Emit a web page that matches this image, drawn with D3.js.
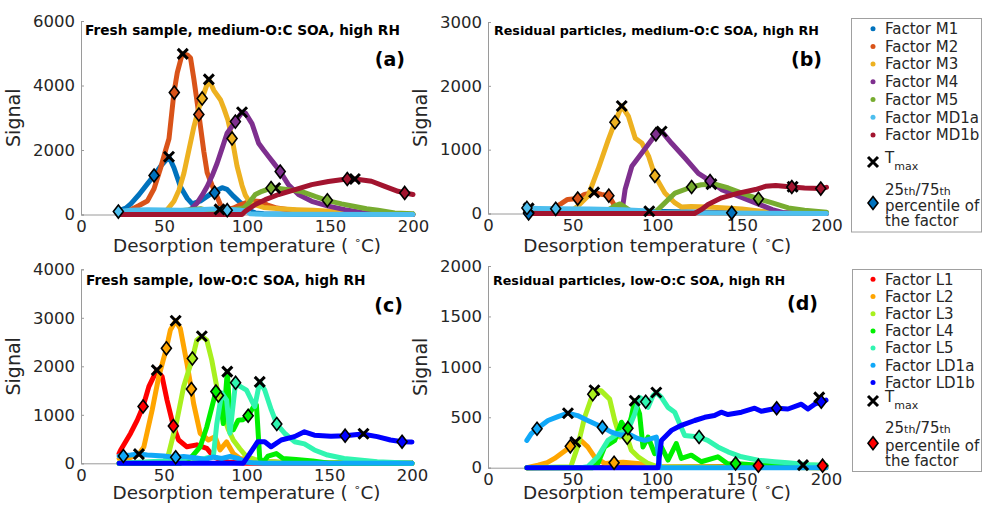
<!DOCTYPE html>
<html><head><meta charset="utf-8">
<script src="https://cdn.jsdelivr.net/npm/d3@7"></script>
<style>body{margin:0;background:#fff;} svg{display:block;}</style>
</head><body>
<svg id="chart" width="983" height="511"></svg>
<script>
// ---------------- DATA ----------------
const namesM = ["Factor M1","Factor M2","Factor M3","Factor M4","Factor M5","Factor MD1a","Factor MD1b"];
const colorsM = ["#0072BD","#D95319","#EDB120","#7E2F8E","#77AC30","#4DBEEE","#A2142F"];
const namesL = ["Factor L1","Factor L2","Factor L3","Factor L4","Factor L5","Factor LD1a","Factor LD1b"];
const colorsL = ["#FF0000","#FFA500","#A8F01E","#00F000","#30F5B0","#10A8F8","#0000FF"];

const titles = ["Fresh sample, medium-O:C SOA, high RH","Residual particles, medium-O:C SOA, high RH",
                "Fresh sample, low-O:C SOA, high RH","Residual particles, low-O:C SOA, high RH"];
const panelLetters = ["(a)","(b)","(c)","(d)"];
const xTicks = [0,50,100,150,200];
const yTicksA = [0,2000,4000,6000];
const yTicksB = [0,1000,2000,3000];
const yTicksC = [0,1000,2000,3000,4000];
const yTicksD = [0,500,1000,1500,2000];

// Panel (a): fresh, medium-O:C  [temperature, signal]
const a_M1 = [[23,120],[27,200],[30,330],[35,620],[40,950],[44,1210],[48,1500],[53,1790],[56,1450],[60,850],[64,500],[67,330],[72,420],[76,560],[80,700],[85,830],[88,780],[92,560],[96,370],[100,150],[105,50],[110,20],[130,10],[200,0]];
const a_M2 = [[23,0],[27,60],[30,150],[35,280],[40,420],[44,800],[48,1450],[51,2000],[53,2350],[56,3780],[58,4400],[61,4980],[64,4950],[66,4850],[68,4200],[71,3100],[74,1950],[76,1300],[79,900],[82,550],[85,180],[88,150],[92,200],[96,300],[100,380],[104,420],[108,400],[112,300],[118,200],[125,150],[135,100],[150,50],[170,20],[200,0]];
const a_M3 = [[23,0],[40,0],[48,20],[52,150],[56,410],[59,750],[62,1280],[65,2000],[68,2720],[71,3300],[73,3600],[77,4190],[80,3850],[84,3560],[86,3300],[88.5,2930],[91,2360],[94,1500],[97,900],[99,600],[102,350],[106,280],[110,220],[120,180],[130,150],[140,130],[150,100],[160,70],[170,40],[185,10],[200,0]];
const a_M4 = [[23,0],[55,0],[60,40],[64,100],[67,200],[70,360],[73,600],[76,870],[79,1200],[82,1590],[85,2050],[88,2520],[93,2880],[97,3170],[99,3150],[103,2820],[107,2210],[110,2000],[113,1800],[116,1600],[120,1330],[125,920],[131,620],[139,410],[149,260],[159,150],[169,60],[180,20],[200,0]];
const a_M5 = [[23,0],[30,30],[40,60],[50,80],[60,120],[66,150],[72,180],[78,100],[85,120],[92,150],[98,200],[101,350],[105,620],[109,720],[114.5,820],[117,820],[125,770],[133,710],[141,560],[148,440],[157,330],[165,250],[172,180],[179,130],[189,50],[200,20]];
const a_MD1a = [[23,90],[30,130],[40,150],[50,140],[60,130],[70,150],[80,170],[84,175],[88,160],[92,150],[96,130],[100,100],[102,20],[110,10],[200,0]];
const a_MD1b = [[23,0],[97,0],[99,100],[105,310],[111,460],[119,620],[129,770],[139,925],[149,1025],[160,1100],[165,1100],[175,1030],[183,870],[191,720],[195,670],[200,620]];
const a_tmax = [[53,1790],[61.3,4980],[77,4190],[97,3170],[117,820],[83.5,160],[165,1100]];
const a_pct = [[[44,1210],[80.5,675]],[[56.2,3780],[71,3100]],[[73,3600],[91,2360]],[[93,2880],[120,1330]],[[114.5,820],[148.4,440]],[[22.5,90],[88.1,134]],[[160.4,1100],[195,670]]];

// Panel (b): residual, medium-O:C
const b_M1 = [[23,10],[60,20],[95,36],[130,20],[170,10],[200,0]];
const b_M2 = [[23,0],[30,20],[35,50],[39,88],[43,150],[47,220],[53,234],[57,300],[62.7,330],[67,300],[71.4,280],[75,115],[79,36],[83,10],[200,0]];
const b_M3 = [[23,0],[45,10],[50,50],[53,115],[59,270],[65,690],[71,1150],[75,1430],[79,1685],[83,1520],[87,1180],[91,1100],[95,890],[98.6,590],[104.5,320],[110.5,165],[114.4,100],[120,110],[130,100],[138,90],[150,70],[160,40],[170,10],[200,0]];
const b_M4 = [[23,0],[79,0],[81,375],[85,740],[91,950],[99.2,1240],[102.6,1285],[108.5,1100],[116.4,870],[124.3,630],[131.2,510],[138,375],[148,270],[158,166],[168,62],[175,10],[200,0]];
const b_M5 = [[23,0],[60,0],[70,40],[75,120],[78,150],[82,80],[86,10],[98,0],[104.5,166],[110.5,320],[120.3,415],[126,450],[134,460],[142,400],[150,320],[159.8,230],[168,166],[177.5,88],[187,52],[200,20]];
const b_MD1a = [[23,88],[30,80],[40,73],[60,70],[80,60],[95,40],[100,10],[200,0]];
const b_MD1b = [[23,0],[122,0],[126,60],[130,140],[138,245],[148,320],[158,375],[164,426],[170,440],[179.5,415],[187,400],[196.6,390],[200,410]];
const b_tmax = [[95.3,36],[62.7,330],[79,1685],[102.6,1285],[132,460],[24,80],[180,420]];
const b_pct = [[[24,0],[144,10]],[[53,234],[71.4,280]],[[75,1430],[98.6,590]],[[99.2,1240],[131.2,510]],[[120.3,415],[159.8,230]],[[23,88],[40,73]],[[179.5,415],[196.6,390]]];

// Panel (c): fresh, low-O:C
const c_L1 = [[23,200],[24,275],[30,620],[34,890],[37.5,1170],[41,1580],[45.8,1920],[49,1790],[52,1300],[55.8,770],[59,480],[64,340],[70,380],[76,310],[80,140],[85,60],[90,20],[100,0],[200,0]];
const c_L2 = [[23,100],[30,120],[35,190],[38,340],[43,1100],[47,1790],[51.6,2370],[54,2750],[57.2,2940],[60,2780],[64,2060],[66.7,1530],[68,1240],[72,620],[77,480],[81,550],[84,275],[88,440],[92,200],[96,100],[105,60],[120,20],[200,0]];
const c_L3 = [[23,0],[50,0],[53,200],[58,890],[62,1580],[67.3,2160],[70,2540],[73,2620],[76,2540],[79,2130],[83,1400],[86,1000],[89,700],[92,480],[96,300],[100,140],[105,80],[110,50],[120,20],[200,0]];
const c_L4 = [[23,0],[60,0],[64,60],[67,140],[72,340],[76,750],[81.5,1480],[84,1300],[86,820],[88.4,1890],[90.4,760],[92,690],[95,890],[98,900],[101,980],[104,1150],[106,1200],[108,100],[110,20],[113,150],[118,200],[122,100],[130,80],[140,50],[150,0],[200,0]];
const c_L5 = [[23,0],[50,50],[55,100],[60,60],[65,120],[70,80],[75,100],[80,150],[82,800],[85,1450],[88,1300],[90,620],[93.4,1660],[96.4,1580],[100,1510],[103,1300],[105,1170],[108,1680],[111,1510],[115,1100],[118.3,810],[123,620],[129,445],[135,400],[141,275],[149,170],[159,100],[179,30],[200,0]];
const c_LD1a = [[23,150],[30,170],[35,190],[40,170],[45,160],[50,150],[57,120],[62,140],[70,110],[75,80],[80,130],[85,100],[90,140],[95,100],[100,20],[110,0],[200,0]];
const c_LD1b = [[23,0],[98,0],[102.8,240],[106.8,445],[111,445],[114.8,340],[121,480],[129,550],[135,650],[141,580],[151,560],[159.6,570],[170,605],[179,550],[187,480],[194,445],[200,440]];
const c_tmax = [[45.8,1920],[57.2,2940],[73,2620],[88.4,1890],[108,1680],[35,190],[170.7,610]];
const c_pct = [[[37.5,1170],[55.8,770]],[[51.6,2370],[66.7,1530]],[[67.3,2160],[83,1400]],[[81.5,1480],[101,980]],[[93.4,1660],[118.3,810]],[[25.6,150],[57.2,124]],[[159.6,570],[194,445]]];

// Panel (d): residual, low-O:C
const d_L1 = [[23,0],[100,5],[150,15],[180,25],[200,15]];
const d_L2 = [[23,0],[29.6,26],[35,50],[39.4,92],[45,160],[48.7,212],[51.7,255],[55,270],[59,206],[63,108],[69,42],[74.6,49],[80,55],[90,40],[95,10],[200,0]];
const d_L3 = [[23,0],[49,10],[53,206],[57.2,500],[62,729],[63,768],[67,762],[72,680],[75,468],[78,304],[80,370],[82.4,298],[84.8,173],[88.8,108],[94.7,42],[100,10],[200,0]];
const d_L4 = [[23,0],[62,0],[65,42],[69,206],[75,271],[79,451],[81.9,370],[82.8,392],[84.8,500],[86.8,664],[89.7,533],[91.7,206],[94.7,304],[98.6,140],[102.6,206],[106.5,75],[111.4,240],[114.4,92],[120.3,124],[126.2,59],[136,108],[142,36],[146.5,42],[160,25],[200,25]];
const d_L5 = [[23,0],[55,0],[59,10],[65,108],[71,271],[77,337],[82.8,370],[86.8,533],[89.7,697],[93.3,654],[94.7,598],[97.6,713],[99.6,746],[102.6,697],[106.5,598],[110.5,550],[113.4,435],[116.4,320],[124.9,304],[130,271],[136,206],[142,157],[150,108],[159.8,75],[169.6,59],[177.5,49],[190,30],[200,20]];
const d_LD1a = [[23,270],[25.6,337],[29,386],[35.5,468],[41.4,507],[47.3,540],[53,517],[59,468],[67.7,402],[73,353],[79,320],[82.8,337],[88.8,288],[92.7,271],[96.6,288],[99.6,304],[101.6,0],[200,0]];
const d_LD1b = [[23,0],[100.6,0],[102.6,270],[108.5,370],[114.4,420],[122.3,468],[128.2,500],[134,517],[138,550],[142,527],[150,550],[157.8,590],[161.7,560],[170.8,590],[177.5,582],[185.4,630],[189.3,582],[193.3,630],[197.2,654],[200,670]];
const d_tmax = [[186.4,26],[51.7,255],[63,768],[86.8,664],[99.6,746],[47.3,540],[196,697]];
const d_pct = [[[160,20],[198,20]],[[48.7,212],[74.6,49]],[[62,729],[82.4,298]],[[82.8,392],[146.5,42]],[[93.3,654],[124.9,304]],[[29,386],[67.7,402]],[[170.8,590],[197.2,654]]];

// ---------------- DRAWING ----------------
const FONT = "DejaVu Sans, Verdana, sans-serif";
const TXT = "#262626";
const AX = "#9a9a9a";
const svg = d3.select("#chart");

const panels = [
  {x0:81, x1:413, y0:214.5, y1:21, ymax:6000, yt:yTicksA, series:[a_M1,a_M2,a_M3,a_M4,a_M5,a_MD1a,a_MD1b], tmax:a_tmax, pct:a_pct, colors:colorsM, tx:85, ty:35, ts:13.7, lx:405, ly:66, xlY:252},
  {x0:488, x1:826.5, y0:213.5, y1:22, ymax:3000, yt:yTicksB, series:[b_M1,b_M2,b_M3,b_M4,b_M5,b_MD1a,b_MD1b], tmax:b_tmax, pct:b_pct, colors:colorsM, tx:494, ty:35, ts:12.7, lx:822, ly:66, xlY:252},
  {x0:81, x1:412, y0:463.3, y1:269.3, ymax:4000, yt:yTicksC, series:[c_L1,c_L2,c_L3,c_L4,c_L5,c_LD1a,c_LD1b], tmax:c_tmax, pct:c_pct, colors:colorsL, tx:86, ty:285, ts:13.7, lx:403, ly:312, xlY:499},
  {x0:488, x1:826, y0:467.7, y1:266, ymax:2000, yt:yTicksD, series:[d_L1,d_L2,d_L3,d_L4,d_L5,d_LD1a,d_LD1b], tmax:d_tmax, pct:d_pct, colors:colorsL, tx:493, ty:285, ts:12.7, lx:818, ly:310, xlY:499}
];

function diamondPath(cx, cy){ return `M${cx},${cy-6.5}L${cx+5},${cy}L${cx},${cy+6.5}L${cx-5},${cy}Z`; }
function drawX(g, cx, cy){
  const s = 5;
  g.append("path").attr("d", `M${cx-s},${cy-s}L${cx+s},${cy+s}M${cx-s},${cy+s}L${cx+s},${cy-s}`)
   .attr("stroke","#000").attr("stroke-width",3).attr("fill","none");
}

panels.forEach((p, i) => {
  const x = d3.scaleLinear().domain([0,200]).range([p.x0, p.x1]);
  const y = d3.scaleLinear().domain([0,p.ymax]).range([p.y0, p.y1]);
  const g = svg.append("g");

  // axes
  const yAxis = d3.axisLeft(y).tickValues(p.yt).tickSize(-3).tickPadding(6).tickFormat(d3.format("d"));
  const xAxis = d3.axisBottom(x).tickValues(xTicks).tickSize(-3).tickPadding(6).tickFormat(d3.format("d"));
  const ya = g.append("g").attr("transform", `translate(${p.x0},0)`).call(yAxis);
  const xa = g.append("g").attr("transform", `translate(0,${p.y0})`).call(xAxis);
  [ya, xa].forEach(a => {
    a.select(".domain").attr("stroke", AX).attr("stroke-width",1);
    a.selectAll(".tick line").attr("stroke", AX);
    a.selectAll(".tick text").attr("fill", TXT).attr("font-family", FONT).attr("font-size", 16.5);
  });

  // lines
  const line = d3.line().x(d => x(d[0])).y(d => y(d[1]));
  p.series.forEach((s, k) => {
    g.append("path").attr("d", line(s)).attr("fill","none").attr("stroke", p.colors[k])
      .attr("stroke-width", 5).attr("stroke-linejoin","round").attr("stroke-linecap","round");
  });

  // markers
  p.tmax.forEach(t => drawX(g, x(t[0]), y(t[1])));
  p.pct.forEach((pp, k) => pp.forEach(t => {
    g.append("path").attr("d", diamondPath(x(t[0]), y(t[1]))).attr("fill", p.colors[k])
      .attr("stroke","#000").attr("stroke-width",1.6);
  }));

  // titles
  g.append("text").attr("x", p.tx).attr("y", p.ty).text(titles[i])
    .attr("font-family", FONT).attr("font-weight","bold").attr("font-size", p.ts).attr("fill","#000");
  g.append("text").attr("x", p.lx).attr("y", p.ly).attr("text-anchor","end").text(panelLetters[i])
    .attr("font-family", FONT).attr("font-weight","bold").attr("font-size", 19).attr("fill","#000");

  // axis labels
  const cy = (p.y0 + p.y1) / 2;
  g.append("text").attr("transform", `translate(${p.x0-61},${cy}) rotate(-90)`).attr("text-anchor","middle")
    .attr("font-family", FONT).attr("font-size", 19).attr("fill", TXT).text("Signal");
  const xl = g.append("text").attr("x", (p.x0+p.x1)/2).attr("y", p.xlY).attr("text-anchor","middle")
    .attr("font-family", FONT).attr("font-size", 18.4).attr("fill", TXT);
  xl.append("tspan").text("Desorption temperature ( ");
  xl.append("tspan").attr("dy",-8).attr("font-size",11).text("∘");
  xl.append("tspan").attr("dy",8).text("C)");
});

// legends
function legend(names, colors, bx, by, bh, rowY0, rowStep, tmaxY, pctY, diamondColor){
  const g = svg.append("g");
  g.append("rect").attr("x",bx).attr("y",by).attr("width",983-bx-1.5).attr("height",bh)
    .attr("fill","#fff").attr("stroke","#a0a0a0").attr("stroke-width",1);
  const mx = 873, tx = 885;
  names.forEach((n,k) => {
    const yy = rowY0 + k*rowStep;
    g.append("circle").attr("cx",mx).attr("cy",yy).attr("r",2.5).attr("fill",colors[k]);
    g.append("text").attr("x",tx).attr("y",yy+5.3).text(n).attr("font-family",FONT).attr("font-size",15).attr("fill",TXT);
  });
  drawX(g, mx, tmaxY);
  const t = g.append("text").attr("x",tx).attr("y",tmaxY+1).attr("font-family",FONT).attr("font-size",15).attr("fill",TXT);
  t.append("tspan").text("T");
  t.append("tspan").attr("dy",7).attr("font-size",11).text("max");
  const l1 = g.append("text").attr("x",tx).attr("y",pctY[0]).attr("font-family",FONT).attr("font-size",15).attr("fill",TXT);
  l1.append("tspan").text("25");
  l1.append("tspan").attr("font-size",11).text("th");
  l1.append("tspan").text("/75");
  l1.append("tspan").attr("font-size",11).text("th");
  g.append("text").attr("x",tx).attr("y",pctY[1]).text("percentile of").attr("font-family",FONT).attr("font-size",15).attr("fill",TXT);
  g.append("text").attr("x",tx).attr("y",pctY[2]).text("the factor").attr("font-family",FONT).attr("font-size",15).attr("fill",TXT);
  g.append("path").attr("d", diamondPath(mx, pctY[3])).attr("fill",diamondColor).attr("stroke","#000").attr("stroke-width",1.6);
}
legend(namesM, colorsM, 851.5, 18.5, 213.5, 28.7, 17.7, 162, [195,210.5,226,203], colorsM[0]);
legend(namesL, colorsL, 852.5, 269.5, 202, 279.3, 17.2, 401, [433,450.5,466,443.3], colorsL[0]);
</script>
</body></html>
